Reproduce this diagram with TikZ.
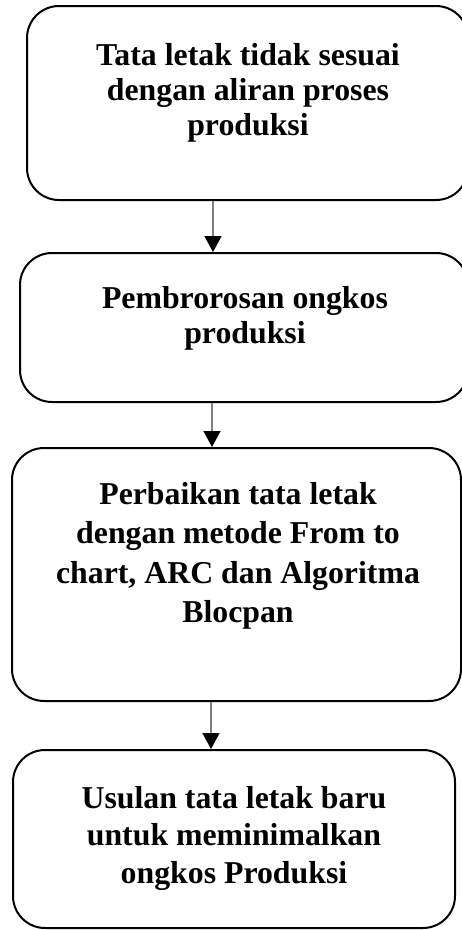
\documentclass[tikz,border=0pt]{standalone}
\usepackage{fontspec}
\setmainfont{Liberation Serif}
\usetikzlibrary{arrows.meta}
\begin{document}
\begin{tikzpicture}[
    x=1pt, y=-1pt,
    box/.style={rectangle, draw, line width=2pt, rounded corners=32pt, inner sep=0pt},
    txt/.style={anchor=north, inner sep=0pt, align=center, font=\bfseries\fontsize{31.8}{#1}\selectfont},
    arrow/.style={-{Triangle[width=17pt,length=16pt,color=black]}, draw=gray, line width=1.4pt}
]
    \useasboundingbox (0,0) rectangle (462,930);

    \node [box, minimum width=441pt, minimum height=194pt] (layout) at (247.5,103) {};
    \node [box, minimum width=448pt, minimum height=149pt] (waste) at (244,327.5) {};
    \node [box, minimum width=449pt, minimum height=253pt] (repair) at (236.5,574.5) {};
    \node [box, minimum width=442pt, minimum height=178pt] (proposal) at (234,839) {};

    \node [txt=35] (layouttext) at (248,43) {Tata letak tidak sesuai\\dengan aliran proses\\produksi};
    \node [txt=35] (wastetext) at (245,286) {Pembrorosan ongkos\\produksi};
    \node [txt=39.5] (repairtext) at (238,482) {Perbaikan tata letak\\dengan metode From to\\chart, ARC dan Algoritma\\Blocpan};
    \node [txt=37.5] (proposaltext) at (234,786) {Usulan tata letak baru\\untuk meminimalkan\\ongkos Produksi};

    \draw [arrow] (213,0 |- layout.south) -- (213,0 |- waste.north);
    \draw [arrow] (212,0 |- waste.south) -- (212,0 |- repair.north);
    \draw [arrow] (211,0 |- repair.south) -- (211,0 |- proposal.north);
\end{tikzpicture}
\end{document}
